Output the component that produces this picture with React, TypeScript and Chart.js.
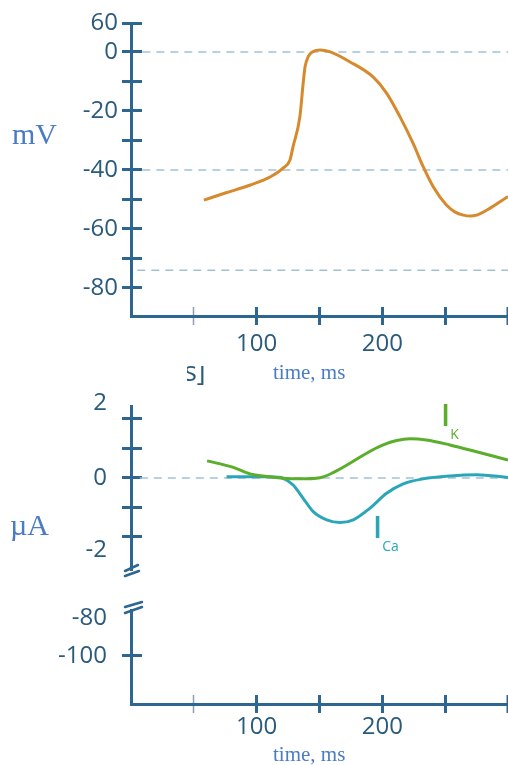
import React, { useEffect, useRef } from 'react';
import { Chart, registerables } from 'chart.js';

Chart.register(...registerables);

// ---------- data ----------
const xTickValues = [50, 100, 150, 200, 250, 300];
const xTickLabels = ['', '100', '', '200', '', ''];

// membrane potential (mV) vs time (ms)
const apTime = [58, 75, 95, 111, 121, 126.5, 129, 134.4, 137, 138.5, 141, 145, 150.5, 158, 174, 193, 203.5, 214, 224.5, 232.5, 240.5, 251, 258, 264.5, 270, 275, 285.5, 300];
const apMv = [-50.2, -47.8, -45.1, -42.3, -39.4, -36.6, -32, -21.9, -10.6, -5, -1.6, 0.2, 0.7, 0.1, -3.3, -8.6, -14, -21.9, -31, -38.9, -45.7, -51.9, -54.3, -55.3, -55.6, -55.3, -53, -49];
const mvRefLines = [0, -40, -74];
const mvRefStarts = [9, 9, 5];
const mvTickValues = [9.83, 0, -10, -20, -30, -40, -50, -60, -70, -80];
const mvTickLabels = ['60', '0', '', '-20', '', '-40', '', '-60', '', '-80'];

// currents (µA) vs time (ms)
const ikTime = [60.5, 81.4, 94.7, 108, 121, 134.5, 150.4, 160.8, 174.3, 187.5, 200.7, 211.4, 222, 235, 253.8, 275, 300];
const ikUa = [0.58, 0.36, 0.14, 0.05, -0.01, -0.03, 0.01, 0.18, 0.5, 0.84, 1.12, 1.27, 1.33, 1.29, 1.12, 0.89, 0.61];
const icaTime = [76, 94.7, 110.6, 121, 129, 137, 145, 155.7, 166.3, 176.9, 190, 203.4, 216.6, 232.5, 253.8, 275, 300];
const icaUa = [0.04, 0.04, 0.04, -0.01, -0.24, -0.69, -1.14, -1.42, -1.51, -1.42, -1.03, -0.52, -0.2, -0.03, 0.07, 0.11, 0.02];
const uaRefStart = 7;
const uaTickValues = [2.55, 2, 1, 0, -1, -2, -2.44];
const uaTickLabels = ['2', '', '', '0', '', '', '-2'];
const uaTickMarks = [false, true, true, true, true, true, false];
const lowTickValues = [-80, -100];
const lowTickLabels = ['-80', '-100'];
const lowTickMarks = [false, true];

// ---------- styles ----------
const AXIS = '#2d6690';
const LABEL = '#2a5a7c';
const DASH = '#9fc2d6';
const ORANGE = '#d68a2e';
const GREEN = '#5aae2c';
const CYAN = '#2ba6b8';
const TITLE = '#4a7cc3';
const TICK_FONT = { family: "'Open Sans', sans-serif", size: 24 };
const CLEAR = 'rgba(0,0,0,0)';

const breakPlugin = {
  id: 'axisBreak',
  afterDraw(chart: any, _a: any, opts: any) {
    if (!opts || !opts.edge) return;
    const { ctx, chartArea } = chart;
    const x = chartArea.left;
    const y = opts.edge === 'bottom' ? chartArea.bottom : chartArea.top;
    const segs = opts.edge === 'bottom'
      ? [[-6, 1, 7, -5], [-6, 6, 8, 1]]
      : [[-6, -3, 11, -8], [-6, 3, 11, -3]];
    ctx.save();
    ctx.strokeStyle = AXIS;
    ctx.lineWidth = 2.5;
    ctx.lineCap = 'round';
    for (const s of segs) {
      ctx.beginPath();
      ctx.moveTo(x + s[0], y + s[1]);
      ctx.lineTo(x + s[2], y + s[3]);
      ctx.stroke();
    }
    ctx.restore();
  },
};

type Spec = {
  padTop: number;
  padBottom: number;
  showX: boolean;
  xHeight: number;
  xPad: number;
  yMin: number;
  yMax: number;
  yTicks: number[];
  yLabels: string[];
  yMarks: boolean[];
  yPad: number;
  datasets: any[];
  edge?: 'top' | 'bottom';
};

const xTickColor = (c: any) => (c.tick && c.tick.value === 50 ? '#8d9fae' : AXIS);
const xTickWidth = (c: any) => (c.tick && c.tick.value === 50 ? 1.5 : c.tick && c.tick.value === 300 ? 4 : 3);
const noPad = (s: any) => { s.paddingTop = 0; s.paddingBottom = 0; s.paddingLeft = 0; s.paddingRight = 0; };

function build(canvas: HTMLCanvasElement, p: Spec) {
  const yTickColor = (c: any) => (p.yMarks[c.index] ? AXIS : CLEAR);
  const scales: any = {
    x: {
      type: 'linear', axis: 'x', position: 'bottom', min: 0, max: 300, bounds: 'data', display: p.showX,
      afterBuildTicks: (s: any) => { s.ticks = xTickValues.map((v) => ({ value: v })); },
      afterFit: (s: any) => { s.height = p.xHeight; noPad(s); },
      border: { display: true, color: AXIS, width: 3 },
      grid: { display: true, drawOnChartArea: false, drawTicks: true, tickLength: 9, tickColor: xTickColor, tickWidth: xTickWidth },
      ticks: { autoSkip: false, maxRotation: 0, padding: p.xPad, color: LABEL, font: TICK_FONT, callback: (_v: any, i: number) => xTickLabels[i] ?? '' },
    },
    y: {
      type: 'linear', axis: 'y', position: 'left', min: p.yMin, max: p.yMax, bounds: 'data',
      afterBuildTicks: (s: any) => { s.ticks = p.yTicks.map((v) => ({ value: v })); },
      afterFit: (s: any) => { s.width = 131; noPad(s); },
      border: { display: true, color: AXIS, width: 3 },
      grid: { display: true, drawOnChartArea: false, drawTicks: true, tickLength: 9, tickColor: yTickColor, tickWidth: 3 },
      ticks: { autoSkip: false, padding: p.yPad, color: LABEL, font: TICK_FONT, callback: (_v: any, i: number) => p.yLabels[i] ?? '' },
    },
    yInner: {
      type: 'linear', axis: 'y', position: { x: 0 }, min: p.yMin, max: p.yMax, bounds: 'data',
      afterBuildTicks: (s: any) => { s.ticks = p.yTicks.map((v) => ({ value: v })); },
      afterFit: (s: any) => { noPad(s); },
      border: { display: false },
      grid: { display: true, drawOnChartArea: false, drawTicks: true, tickLength: -11, tickColor: yTickColor, tickWidth: 3 },
      ticks: { display: false },
    },
  };
  if (p.showX) {
    scales.xInner = {
      type: 'linear', axis: 'x', position: { y: p.yMin }, min: 0, max: 300, bounds: 'data',
      afterBuildTicks: (s: any) => { s.ticks = xTickValues.map((v) => ({ value: v })); },
      afterFit: (s: any) => { noPad(s); },
      border: { display: false },
      grid: { display: true, drawOnChartArea: false, drawTicks: true, tickLength: -9, tickColor: xTickColor, tickWidth: xTickWidth },
      ticks: { display: false },
    };
  }
  return new Chart(canvas, {
    type: 'line',
    data: { datasets: p.datasets },
    options: {
      responsive: false,
      animation: false,
      devicePixelRatio: 1,
      layout: { padding: { top: p.padTop, bottom: p.padBottom, left: 0, right: 0 } },
      plugins: { legend: { display: false }, tooltip: { enabled: false }, axisBreak: { edge: p.edge } } as any,
      scales,
    },
    plugins: [breakPlugin as any],
  });
}

const curve = (xs: number[], ys: number[], color: string) => ({
  data: xs.map((x, i) => ({ x, y: ys[i] })),
  borderColor: color,
  borderWidth: 3,
  pointRadius: 0,
  cubicInterpolationMode: 'monotone',
  fill: false,
  xAxisID: 'x',
  yAxisID: 'y',
  order: 0,
});
const refLine = (v: number, start: number) => ({
  data: [{ x: start, y: v }, { x: 300, y: v }],
  borderColor: DASH,
  borderWidth: 1.5,
  borderDash: [8, 6],
  pointRadius: 0,
  fill: false,
  xAxisID: 'x',
  yAxisID: 'y',
  order: 5,
});

export default function App() {
  const c1 = useRef<HTMLCanvasElement>(null);
  const c2 = useRef<HTMLCanvasElement>(null);
  const c3 = useRef<HTMLCanvasElement>(null);

  useEffect(() => {
    const charts: Chart[] = [];
    charts.push(build(c1.current!, {
      padTop: 23, padBottom: 0, showX: true, xHeight: 49, xPad: 5,
      yMin: -89.5, yMax: 9.83, yTicks: mvTickValues, yLabels: mvTickLabels,
      yMarks: mvTickValues.map(() => true), yPad: 4,
      datasets: [curve(apTime, apMv, ORANGE), ...mvRefLines.map((v, i) => refLine(v, mvRefStarts[i]))],
    }));
    charts.push(build(c2.current!, {
      padTop: 21, padBottom: 15, showX: false, xHeight: 0, xPad: 0,
      yMin: -3.12, yMax: 2.44, yTicks: uaTickValues, yLabels: uaTickLabels,
      yMarks: uaTickMarks, yPad: 15, edge: 'bottom',
      datasets: [curve(ikTime, ikUa, GREEN), curve(icaTime, icaUa, CYAN), refLine(0, uaRefStart)],
    }));
    charts.push(build(c3.current!, {
      padTop: 20, padBottom: 0, showX: true, xHeight: 61, xPad: 0,
      yMin: -125.26, yMax: -75.8, yTicks: lowTickValues, yLabels: lowTickLabels,
      yMarks: lowTickMarks, yPad: 15, edge: 'top',
      datasets: [],
    }));
    return () => charts.forEach((c) => c.destroy());
  }, []);

  const serif: React.CSSProperties = { position: 'absolute', fontFamily: "'Liberation Serif', 'Times New Roman', serif", color: TITLE, lineHeight: 1, whiteSpace: 'nowrap' };
  const sans: React.CSSProperties = { position: 'absolute', fontFamily: "'Open Sans', sans-serif", lineHeight: 1, whiteSpace: 'nowrap' };

  return (
    <div style={{ position: 'absolute', left: 0, top: 0, width: 508, height: 765, overflow: 'hidden', background: '#ffffff' }}>
      <canvas ref={c1} width={508} height={365} style={{ position: 'absolute', left: 0, top: 0 }} />
      <canvas ref={c2} width={508} height={200} style={{ position: 'absolute', left: 0, top: 385 }} />
      <canvas ref={c3} width={508} height={175} style={{ position: 'absolute', left: 0, top: 590 }} />
      <div style={{ ...serif, left: 12, top: 119, fontSize: 30 }}>mV</div>
      <div style={{ ...serif, left: 10, top: 510, fontSize: 30 }}>µA</div>
      <div style={{ ...serif, left: 273, top: 362, fontSize: 21 }}>time, ms</div>
      <div style={{ ...serif, left: 273, top: 744, fontSize: 21 }}>time, ms</div>
      <div style={{ position: 'absolute', left: 187, top: 366, width: 24, height: 21, overflow: 'hidden' }}>
        <span style={{ ...sans, left: -3, top: -9, fontSize: 27, color: LABEL }}>s]</span>
      </div>
      <div style={{ ...sans, left: 441, top: 400, fontSize: 30, fontWeight: 600, color: GREEN }}>
        I<sub style={{ fontSize: 14, fontWeight: 400, verticalAlign: '-13px' }}>K</sub>
      </div>
      <div style={{ ...sans, left: 373, top: 512, fontSize: 30, fontWeight: 600, color: CYAN }}>
        I<sub style={{ fontSize: 14, fontWeight: 400, verticalAlign: '-13px' }}>Ca</sub>
      </div>
    </div>
  );
}
